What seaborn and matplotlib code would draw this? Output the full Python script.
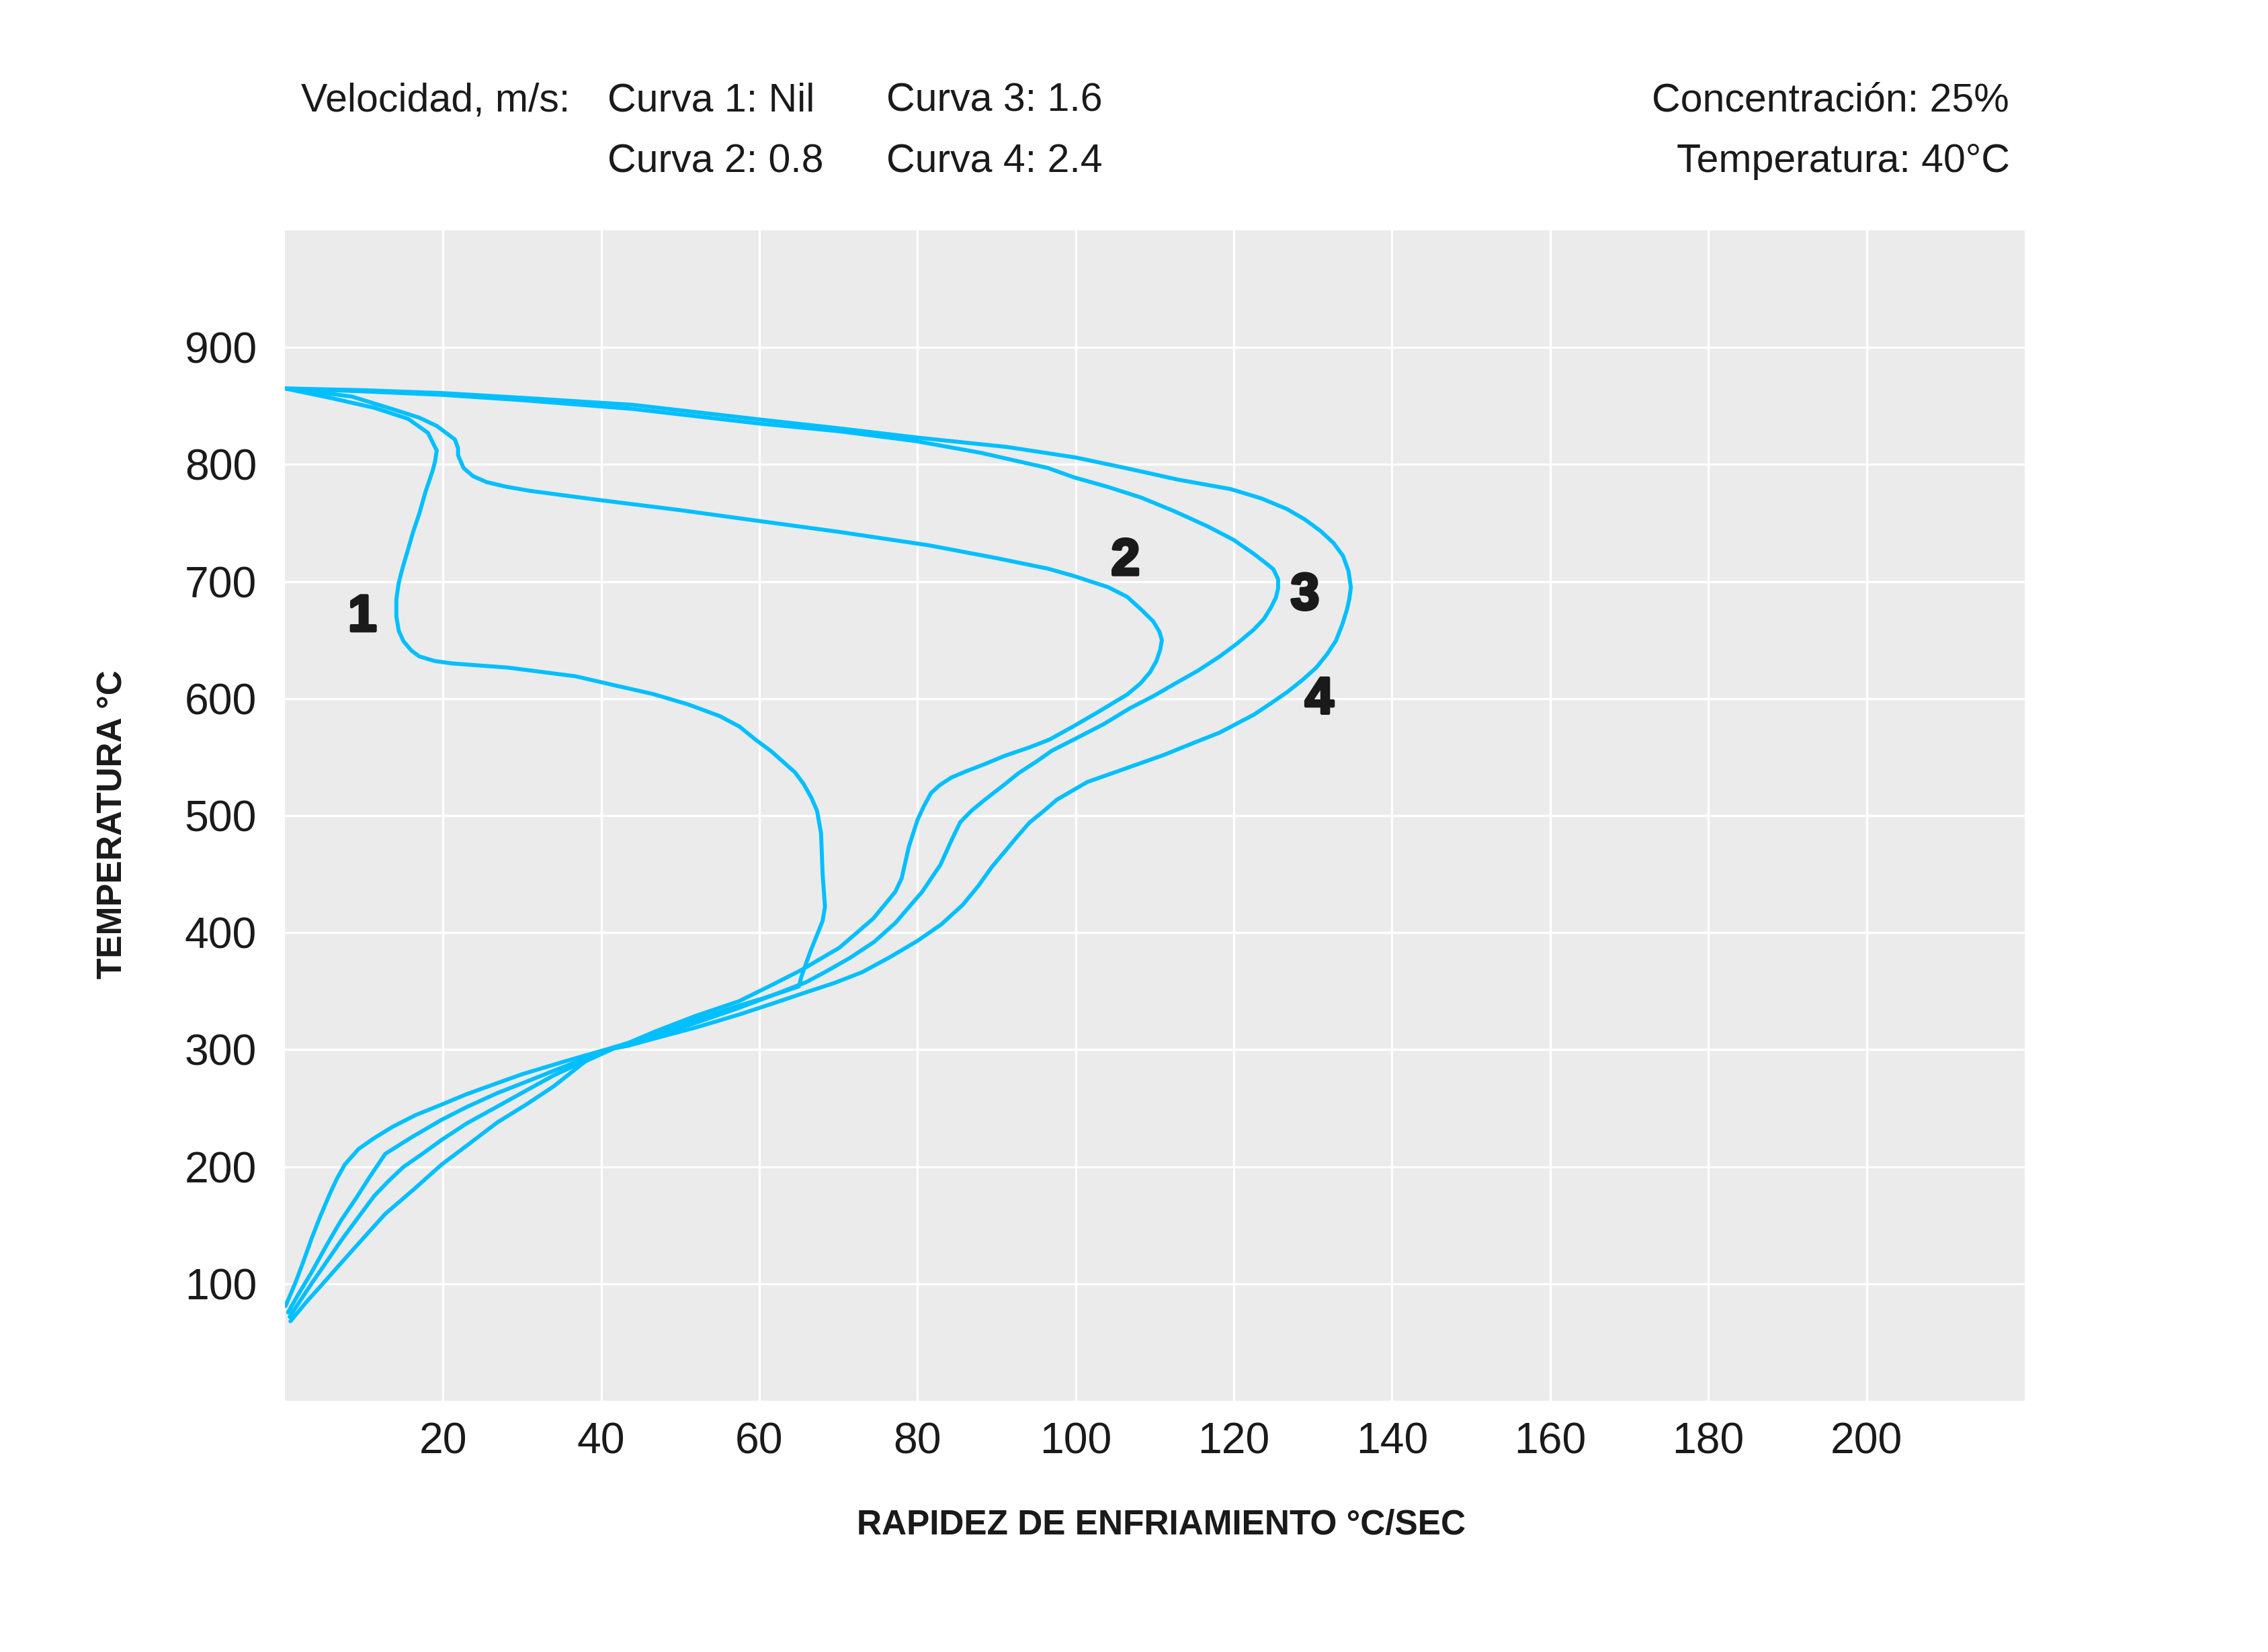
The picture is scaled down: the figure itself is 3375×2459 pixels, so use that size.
import matplotlib
matplotlib.use("Agg")
import matplotlib.pyplot as plt
import matplotlib.patheffects as pe
import seaborn as sns
import pandas as pd

# ---- data ----
curve1_x = [0, 5.7, 11.3, 15.6, 18.1, 19.2, 19.0, 18.7, 17.8, 17.0, 16.2, 15.6, 14.9, 14.4, 14.1, 14.1,
            14.4, 15.0, 16.0, 17.0, 19.0, 21.2, 28.3, 36.8, 41.9, 46.5, 51.0, 55.0, 57.5, 59.5, 61.5,
            63.0, 64.5, 65.6, 66.6, 67.3, 67.8, 68.0, 68.3, 68.0, 66.4, 65.3, 65.0, 61.0, 57.4, 52.0,
            47.0, 43.5, 41.6, 35.4, 30.0, 26.9, 23.0, 19.8, 16.5, 13.6, 11.2, 9.3, 7.6, 6.6, 5.7, 4.5,
            3.4, 2.4, 1.4, 0.1]
curve1_y = [865, 857, 848.5, 839, 827, 812, 803, 795, 777, 758, 742, 728, 712, 699, 685, 670,
            658, 649, 641, 636, 632, 630, 626.4, 619, 611, 604, 595, 585, 576, 565, 555,
            546, 537, 527, 515, 504, 485, 450, 422, 410, 383, 362, 354, 345, 337.5, 326,
            314, 305, 302, 290, 279, 271.5, 262, 253, 244, 234, 224, 215, 202, 190, 177, 158,
            139, 120, 102, 81]

curve2_x = [0, 4.0, 8.5, 14.1, 17.0, 19.2, 21.5, 21.9, 21.9, 22.6, 23.8, 25.5, 28.0, 31.1, 39.6, 44.1,
            50.0, 58.6, 70.0, 81.4, 90.0, 96.5, 99.8, 104.1, 106.5, 108.3, 109.8, 110.6, 110.9, 110.7,
            110.2, 109.4, 108.2, 106.5, 102.7, 99.8, 96.7, 94.2, 91.0, 88.5, 86.2, 84.3, 82.8, 81.7,
            80.8, 80.0, 78.9, 78.0, 77.2, 74.4, 70.1, 65.3, 61.5, 57.4, 52.0, 47.0, 43.5, 41.6,
            34.0, 30.5, 26.9, 23.0, 19.8, 16.0, 12.7, 10.8, 9.0, 7.1, 5.2, 3.4, 1.8, 0.4]
curve2_y = [865, 862, 858, 846.3, 840, 833, 821.4, 814, 808, 797, 790, 785, 781, 777.4, 769.8, 766,
            761, 753, 742.5, 731, 720, 711, 704.7, 695.2, 687, 676, 666, 657, 650, 642,
            632, 622.5, 613, 603.4, 588, 576.6, 565, 558.4, 551, 544, 538, 532.6, 526, 519.2,
            508, 496.3, 473.3, 446.5, 435, 412, 387, 368, 355, 341.3, 329, 316, 306, 302,
            282, 272.5, 263, 251, 240, 225, 211, 192, 173, 154, 132, 110, 92, 75.5]

curve3_x = [0, 10.0, 20.0, 30.0, 44.0, 60.0, 70.0, 79.8, 88.0, 96.5, 99.8, 104.0, 108.3, 112.5, 116.8,
            120.0, 122.5, 124.0, 125.0, 125.6, 125.6, 125.3, 124.7, 123.8, 122.5, 120.5, 118.2, 115.5,
            112.6, 109.8, 106.9, 103.5, 99.8, 97.0, 95.0, 92.8, 90.7, 88.5, 86.8, 85.4, 84.3, 82.9,
            80.6, 77.2, 74.5, 71.5, 68.5, 65.9, 61.5, 57.4, 52.0, 47.0, 43.5, 41.6,
            34.0, 30.5, 26.9, 23.0, 19.8, 17.4, 15.0, 13.0, 11.3, 9.2, 7.1, 5.2, 3.4, 2.0, 0.6]
curve3_y = [865, 862.5, 859.5, 855, 847.5, 835, 828.5, 820, 810, 797, 789, 781, 771.7, 760, 746.8,
            735.5, 723.8, 716, 710.5, 702, 694.2, 686, 677.9, 668, 658.8, 647.5, 635.9, 624,
            612.9, 602, 591.9, 578, 565.1, 555.5, 546, 536.4, 525, 513.5, 504, 494.3, 479, 458,
            435, 408.3, 392, 378.6, 367, 357.6, 346, 335.6, 323, 312, 305, 302,
            278, 265, 251.5, 237, 222.8, 211, 199.8, 187, 175, 156, 136.7, 118, 100.4, 86, 71.7]

curve4_x = [0, 10.0, 20.0, 30.0, 44.0, 60.0, 70.0, 80.0, 91.3, 100.0, 106.3, 113.0, 119.6, 123.5,
            126.7, 129.0, 131.0, 132.6, 133.8, 134.5, 134.8, 134.6, 134.3, 133.7, 132.9, 131.8, 130.4,
            128.7, 126.7, 124.7, 122.5, 118.2, 114.5, 111.1, 105.5, 101.5, 99.5, 97.6, 95.8, 94.2,
            92.6, 91.3, 89.4, 87.7, 85.7, 83.0, 80.0, 76.5, 73.0, 69.5, 65.9, 61.5, 57.4, 52.0,
            47.0, 43.5, 41.6, 38.0, 34.0, 30.5, 26.9, 23.2, 19.8, 16.2, 12.7, 9.8, 7.1, 4.8, 2.8, 0.7]
curve4_y = [865, 863.5, 861, 857, 851, 838.5, 831, 823, 815, 806, 797, 787, 779, 771,
            762, 753, 743, 733, 722, 709, 695, 685, 676, 663, 649.3, 638, 626.3,
            616, 605.3, 596, 586.1, 570.9, 561, 551.7, 538.3, 528.8, 521, 513.5, 503, 494.3,
            482, 471.4, 456.1, 440, 423.6, 407, 393, 379, 366.2, 357, 349, 339, 329.9, 319,
            310, 303.5, 301, 290, 268.7, 253, 238, 219, 201.7, 180, 159.7, 138, 117.6, 100, 85, 67.9]

curve_names = ["1", "2", "3", "4"]
label_x = [9.8, 106.3, 129.0, 130.8]
label_y = [669, 717, 687.5, 598.6]

x_ticks = [20, 40, 60, 80, 100, 120, 140, 160, 180, 200]
y_ticks = [100, 200, 300, 400, 500, 600, 700, 800, 900]

# ---- style ----
sns.set_theme(style="darkgrid", rc={
    "axes.facecolor": "#EBEBEB",
    "grid.color": "white",
    "grid.linewidth": 0.95,
    "axes.edgecolor": "#EBEBEB",
})
plt.rcParams["font.family"] = ["Liberation Sans", "DejaVu Sans"]
TXT = "#1a1a1a"
LINE = "#00BFFF"

fig = plt.figure(figsize=(13.5, 2459 / 250), dpi=250)
ax = fig.add_axes([0.1256, 0.1521, 0.8927 - 0.1256, 0.8605 - 0.1521])

curves = [(curve1_x, curve1_y), (curve2_x, curve2_y), (curve3_x, curve3_y), (curve4_x, curve4_y)]
for (cx, cy), name in zip(curves, curve_names):
    df = pd.DataFrame({"x": cx, "y": cy})
    sns.lineplot(data=df, x="x", y="y", sort=False, estimator=None, color=LINE,
                 linewidth=1.7, ax=ax)
for ln in ax.get_lines():
    ln.set_solid_joinstyle("round")
    ln.set_solid_capstyle("round")

for name, lx, ly in zip(curve_names, label_x, label_y):
    ax.text(lx, ly, name, ha="center", va="center", fontsize=22, fontweight="bold", color=TXT,
            path_effects=[pe.withStroke(linewidth=1.3, foreground=TXT)])

ax.set_xlim(0, 220)
ax.set_ylim(0, 1000)
ax.set_xticks(x_ticks)
ax.set_yticks(y_ticks)
ax.tick_params(axis="both", labelsize=18.5, colors=TXT, length=0)
ax.tick_params(axis="x", pad=9)
ax.tick_params(axis="y", pad=12)
for s in ax.spines.values():
    s.set_visible(False)

ax.set_xlabel("RAPIDEZ DE ENFRIAMIENTO °C/SEC", fontsize=14.8, fontweight="bold", color=TXT)
ax.set_ylabel("TEMPERATURA °C", fontsize=14.8, fontweight="bold", color=TXT)
ax.xaxis.set_label_coords((0.512 - 0.1256) / (0.8927 - 0.1256), (0.0765 - 0.1521) / (0.8605 - 0.1521))
ax.xaxis.label.set_verticalalignment("center")
ax.yaxis.set_label_coords((0.0498 - 0.1256) / (0.8927 - 0.1256), (0.501 - 0.1521) / (0.8605 - 0.1521))
ax.yaxis.label.set_verticalalignment("center")

fs = 17
r1, r2 = 0.9390, 0.9020
fig.text(0.1327, r1, "Velocidad, m/s:", fontsize=fs, color=TXT, ha="left", va="center")
fig.text(0.2679, r1, "Curva 1: Nil", fontsize=fs, color=TXT, ha="left", va="center")
fig.text(0.2679, r2, "Curva 2: 0.8", fontsize=fs, color=TXT, ha="left", va="center")
fig.text(0.3909, r1, "Curva 3: 1.6", fontsize=fs, color=TXT, ha="left", va="center")
fig.text(0.3909, r2, "Curva 4: 2.4", fontsize=fs, color=TXT, ha="left", va="center")
fig.text(0.8859, r1, "Concentración: 25%", fontsize=fs, color=TXT, ha="right", va="center")
fig.text(0.8862, r2, "Temperatura: 40°C", fontsize=fs, color=TXT, ha="right", va="center")

fig.savefig("out.png", dpi=250, facecolor="white")
